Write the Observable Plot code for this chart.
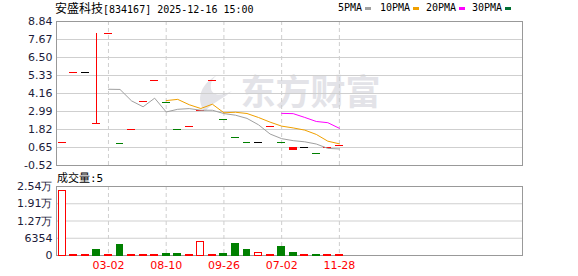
<!DOCTYPE html>
<html><head><meta charset="utf-8">
<script src="https://cdn.jsdelivr.net/npm/d3@7"></script>
<script src="https://cdn.jsdelivr.net/npm/@observablehq/plot@0.6"></script>
<style>
body{margin:0;background:#fff;}
#wrap{position:relative;width:578px;height:276px;overflow:hidden;background:#fff;}
#wrap svg{position:absolute;left:0;}
.abs{position:absolute;white-space:nowrap;color:#000;}
.mono{font-family:"DejaVu Sans Mono",monospace;font-size:10px;}
.cjk{font-family:"Noto Sans CJK SC",sans-serif;font-size:12px;}
.sw{position:absolute;width:6px;height:3px;}
</style></head><body><div id="wrap"></div>
<script>
// ---- data ----
const stockName = "安盛科技";
const stockCode = "834167";
const stamp = "2025-12-16 15:00";
const opens  = [0.95,5.50,5.50,2.17,8.04,0.89,1.78,3.58,4.99,3.56,1.76,2.00,3.05,4.99,2.47,1.24,0.96,0.96,2.00,0.96,0.48,0.59,0.24,0.59,0.76];
const closes = [0.95,5.50,5.50,2.19,8.04,0.89,1.78,3.58,4.99,3.56,1.76,2.00,3.05,4.99,2.47,1.24,0.96,0.96,2.00,0.96,0.59,0.59,0.24,0.59,0.76];
const highs  = [0.95,5.50,5.50,8.04,8.04,0.89,1.78,3.58,4.99,3.56,1.76,2.00,3.05,4.99,2.47,1.24,0.96,0.96,2.00,0.96,0.59,0.59,0.24,0.59,0.76];
const lows   = [0.95,5.50,5.50,2.17,8.04,0.89,1.78,3.58,4.99,3.56,1.76,2.00,3.05,4.99,2.47,1.24,0.96,0.96,2.00,0.96,0.48,0.59,0.24,0.59,0.76];
const volumes = [23660,100,60,1960,150,3700,100,60,80,450,450,100,5065,150,400,4070,1850,1000,100,3070,740,60,150,20,5];
const priceTicks = [-0.52,0.65,1.82,2.99,4.16,5.33,6.50,7.67,8.84];
const volTicks = [0,6354,12708,19062,25416];
const volTickLabels = ["0","6354","1.27万","1.91万","2.54万"];
const xTickIdx = [4,9,14,19,24];
const xTickLabels = ["03-02","08-10","09-26","07-02","11-28"];
const maNames = ["5PMA","10PMA","20PMA","30PMA"];
const maPeriods = [5,10,20,30];

// ---- styles ----
const RED = "#ff0000", GREEN = "#008000", BLACK = "#000000";
const maColors = ["#a0a0a0","#f0a000","#ff00ff","#006f33"];
const GRID = "#cfcfcf", FRAME = "#999999", LABEL = "#1c1c3a";

const data = closes.map((c, i) => ({i, open: opens[i], close: c, high: highs[i], low: lows[i], vol: volumes[i], prev: i ? closes[i - 1] : null}));
const candleColor = d => d.close > d.open ? RED : d.close < d.open ? GREEN
  : (d.prev == null || d.close > d.prev) ? RED : d.close < d.prev ? GREEN : BLACK;
const volDown = d => d.prev != null && d.close < d.prev;
const xDomain = [-0.5, 39.86];
const half = 0.34;
const volLabel = new Map(volTicks.map((t, i) => [t, volTickLabels[i]]));
const xLabel = new Map(xTickIdx.map((t, i) => [t, xTickLabels[i]]));

const logo = () => {
  const p = document.createElementNS("http://www.w3.org/2000/svg", "path");
  p.setAttribute("d", "M217,75 C201,84 195,99 205,112 C211,103 223,99 232,91 C224,95 213,97 211,89 C210,83 212,79 217,75 Z");
  p.setAttribute("fill", "#e3e3e8");
  return p;
};

const price = Plot.plot({
  width: 578, height: 172, marginLeft: 56, marginRight: 56, marginTop: 21, marginBottom: 7,
  style: {fontFamily: "DejaVu Sans", fontSize: "11px", color: LABEL, background: "transparent"},
  x: {domain: xDomain, axis: null, label: null},
  y: {domain: [-0.52, 8.84], axis: null, label: null},
  marks: [
    logo,
    Plot.text(["东方财富"], {frameAnchor: "top-left", dx: 184, dy: 72, textAnchor: "start", lineAnchor: "middle",
      fontSize: 35, fontWeight: "bold", fontFamily: "Noto Sans CJK SC", fill: "#e3e3e8"}),
    Plot.gridY(priceTicks, {stroke: GRID, strokeOpacity: 1}),
    Plot.gridX(xTickIdx, {stroke: GRID, strokeOpacity: 1, strokeDasharray: "4,3"}),
    Plot.frame({stroke: FRAME}),
    Plot.axisY(priceTicks, {tickSize: 0, tickPadding: 4, tickFormat: d => d.toFixed(2), fill: LABEL, label: null}),
    Plot.ruleX(data, {x: "i", y1: "low", y2: "high", stroke: candleColor, shapeRendering: "crispEdges"}),
    Plot.rect(data, {x1: d => d.i - half, x2: d => d.i + half, y1: "open", y2: "close", fill: candleColor,
      insetTop: -0.5, insetBottom: -0.5, shapeRendering: "crispEdges"}),
    ...maPeriods.map((k, j) => Plot.line(data, Plot.windowY({k, anchor: "end", strict: true},
      {x: "i", y: "close", stroke: maColors[j], strokeWidth: 1}))),
  ]
});

const volume = Plot.plot({
  width: 578, height: 104, marginLeft: 56, marginRight: 56, marginTop: 14, marginBottom: 21,
  style: {fontFamily: "DejaVu Sans", fontSize: "11px", color: LABEL, background: "transparent"},
  x: {domain: xDomain, label: null},
  y: {domain: [0, 25416], label: null},
  marks: [
    Plot.gridY(volTicks, {stroke: GRID, strokeOpacity: 1}),
    Plot.gridX(xTickIdx, {stroke: GRID, strokeOpacity: 1, strokeDasharray: "4,3"}),
    Plot.frame({stroke: FRAME}),
    Plot.axisY(volTicks, {tickSize: 0, tickPadding: 4, tickFormat: d => volLabel.get(d), fill: LABEL, label: null}),
    Plot.axisX(xTickIdx, {tickSize: 0, tickPadding: 6, tickFormat: d => xLabel.get(d), fill: RED, label: null}),
    Plot.rect(data, {x1: d => d.i - 0.3, x2: d => d.i + 0.3, y1: d => 0, y2: "vol",
      fill: d => volDown(d) ? GREEN : "#ffffff", stroke: d => volDown(d) ? GREEN : RED, shapeRendering: "crispEdges"}),
  ]
});

const wrap = document.getElementById("wrap");
price.style.top = "0px";
volume.style.top = "172px";
wrap.appendChild(price);
wrap.appendChild(volume);

function addDiv(html, cls, left, top) {
  const el = document.createElement("div");
  el.className = "abs " + cls;
  el.style.left = left + "px"; el.style.top = top + "px";
  el.innerHTML = html;
  wrap.appendChild(el);
  return el;
}
const title = addDiv(`<span class="cjk">${stockName}</span><span class="mono">[${stockCode}] ${stamp}</span>`, "", 55, 0);
title.style.lineHeight = "15px";
const legendX = [338, 380, 426, 472];
maNames.forEach((n, j) => {
  addDiv(n, "mono", legendX[j], 0).style.lineHeight = "16px";
  const sw = document.createElement("div");
  sw.className = "sw";
  sw.style.background = maColors[j];
  sw.style.left = (legendX[j] + n.length * 6.02 + 3) + "px";
  sw.style.top = "7px";
  wrap.appendChild(sw);
});
addDiv(`<span class="cjk" style="font-size:11px">成交量</span><span class="mono" style="font-size:11px">:${volumes[volumes.length - 1]}</span>`, "", 57, 168);
</script></body></html>
